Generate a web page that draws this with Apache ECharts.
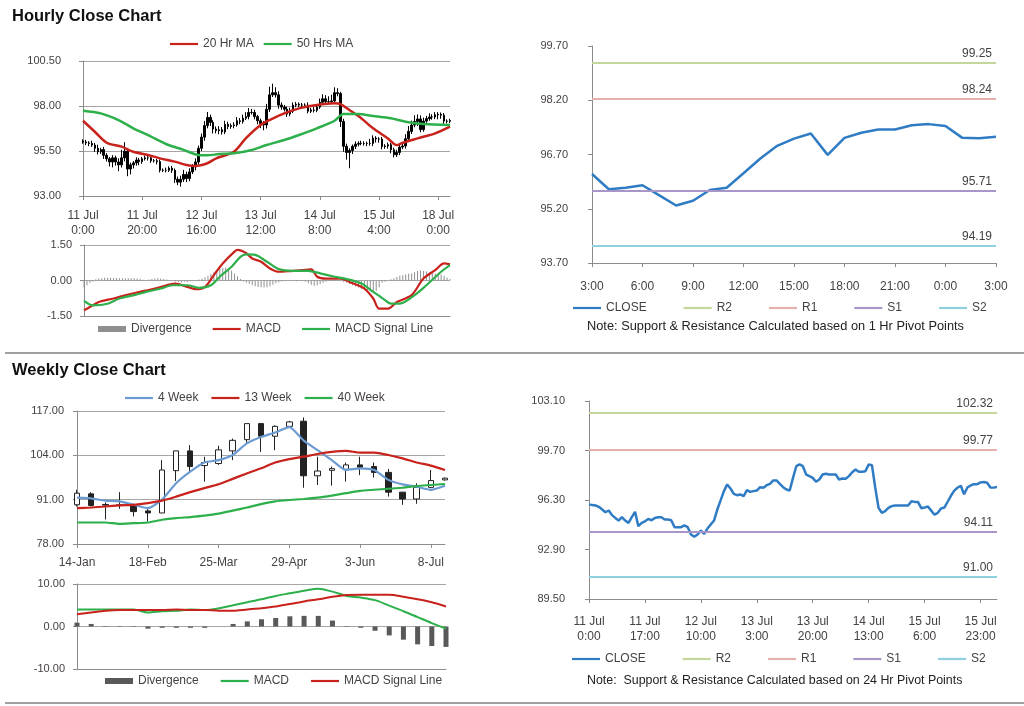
<!DOCTYPE html>
<html><head><meta charset="utf-8">
<script src="https://cdn.jsdelivr.net/npm/echarts@6/dist/echarts.min.js"></script>
<style>html,body{margin:0;padding:0;background:#fff}#c{width:1024px;height:706px}</style>
</head><body><div id="c"></div>
<script>
// ---------- Hourly data (11 Jul 0:00 .. 18 Jul 4:00) ----------
const hourlyClose = [
 96.00,95.95,95.92,95.83,95.65,95.46,95.58,95.26,95.07,94.89,
 95.12,94.89,94.73,95.12,95.49,94.50,94.73,94.84,95.00,94.91,
 95.07,95.12,95.12,94.96,94.96,94.91,94.43,94.43,94.43,94.55,
 94.43,93.93,93.77,93.93,94.20,93.97,94.34,94.62,94.89,95.65,
 96.27,96.91,97.37,97.09,96.72,96.63,96.68,96.56,96.98,96.86,
 96.91,96.95,97.18,97.14,97.32,97.41,97.64,97.64,97.41,97.18,
 97.02,96.95,97.82,98.62,98.74,98.62,98.05,97.94,97.82,97.55,
 97.71,98.05,98.10,98.05,98.05,98.05,97.71,97.78,97.76,97.94,
 98.21,98.40,98.24,98.24,98.28,98.74,98.69,97.14,95.76,95.42,
 95.53,95.76,95.88,95.92,95.92,95.92,95.92,95.92,96.22,96.17,
 96.16,95.74,95.78,95.85,95.57,95.29,95.42,95.72,95.78,96.18,
 96.59,96.94,97.14,97.28,96.69,97.16,97.30,97.39,97.39,97.51,
 97.54,97.49,97.16,97.15,97.19
];
const hourlyFirstOpen = 96.05;
const hourlyWickUp = [
 0.10,0.12,0.10,0.15,0.12,0.20,0.10,0.15,0.12,0.10,
 0.15,0.12,0.20,0.45,0.50,0.15,0.12,0.10,0.15,0.12,
 0.10,0.12,0.10,0.12,0.10,0.10,0.12,0.10,0.15,0.10,
 0.12,0.10,0.15,0.20,0.25,0.15,0.20,0.15,0.20,0.15,
 0.20,0.25,0.30,0.15,0.12,0.15,0.20,0.15,0.20,0.15,
 0.12,0.15,0.20,0.15,0.20,0.25,0.25,0.20,0.15,0.10,
 0.12,0.15,0.30,0.45,0.50,0.30,0.20,0.15,0.12,0.15,
 0.20,0.15,0.12,0.10,0.12,0.10,0.15,0.12,0.20,0.15,
 0.20,0.25,0.20,0.30,0.35,0.30,0.25,0.10,0.15,0.15,
 0.12,0.10,0.15,0.12,0.15,0.12,0.10,0.25,0.15,0.10,
 0.10,0.12,0.10,0.12,0.10,0.12,0.15,0.15,0.20,0.25,
 0.30,0.25,0.35,0.25,0.20,0.20,0.15,0.20,0.15,0.15,
 0.12,0.10,0.12,0.10,0.10
];
const hourlyWickDn = [
 0.10,0.12,0.15,0.10,0.20,0.15,0.12,0.20,0.15,0.25,
 0.30,0.20,0.35,0.15,0.20,0.40,0.30,0.20,0.15,0.20,
 0.12,0.10,0.15,0.12,0.10,0.15,0.12,0.10,0.12,0.10,
 0.15,0.20,0.17,0.25,0.15,0.20,0.15,0.12,0.20,0.15,
 0.15,0.20,0.15,0.20,0.25,0.15,0.20,0.15,0.12,0.15,
 0.12,0.15,0.10,0.15,0.12,0.10,0.15,0.12,0.15,0.20,
 0.25,0.30,0.20,0.15,0.12,0.15,0.20,0.15,0.12,0.15,
 0.12,0.10,0.12,0.10,0.15,0.10,0.12,0.10,0.12,0.10,
 0.10,0.12,0.10,0.12,0.10,0.12,0.15,0.30,0.30,0.40,
 0.88,0.20,0.15,0.12,0.10,0.12,0.15,0.12,0.15,0.20,
 0.20,0.15,0.12,0.15,0.20,0.15,0.12,0.15,0.12,0.15,
 0.12,0.15,0.12,0.25,0.15,0.12,0.10,0.12,0.15,0.12,
 0.25,0.20,0.15,0.12,0.10
];
// moving averages: [hour index, value]
const ma20Hr = [[0,97.18],[4,96.57],[8,95.96],[13,95.74],[17,95.46],[22,95.28],[26,95.09],[31,94.91],[35,94.72],[38,94.67],[42,94.82],[45,95.09],[51,95.46],[55,96.2],[60,96.94],[63,97.22],[68,97.59],[73,97.87],[79,98.06],[85,98.15],[87,98.11],[90,97.78],[94,97.32],[98,96.76],[103,96.2],[106,95.83],[108,95.96],[113,96.2],[119,96.48],[124,96.85]];
const ma50Hr = [[0,97.74],[6,97.59],[12,97.22],[17,96.76],[23,96.3],[28,95.89],[34,95.56],[39,95.28],[42,95.26],[46,95.33],[51,95.37],[57,95.56],[62,95.83],[68,96.11],[73,96.39],[79,96.76],[85,97.18],[88,97.55],[93,97.55],[98,97.44],[104,97.32],[109,97.13],[115,97.0],[124,96.94]];
// hourly MACD
const macdHr = [[0,-1.26],[2,-1.12],[5,-0.91],[10,-0.76],[15,-0.59],[19,-0.48],[24,-0.34],[28,-0.2],[31,-0.13],[35,-0.27],[38,-0.37],[41,-0.27],[44,0.23],[47,0.72],[51,1.22],[52,1.29],[55,1.15],[57,0.93],[60,0.79],[63,0.51],[66,0.37],[70,0.40],[74,0.44],[77,0.47],[79,0.16],[82,0.08],[87,0.08],[90,-0.06],[95,-0.34],[98,-0.76],[100,-1.19],[103,-1.19],[106,-0.91],[111,-0.62],[115,0.08],[119,0.44],[122,0.72],[124,0.68]];
const signalHr = [[0,-0.86],[3,-1.05],[8,-0.98],[12,-0.76],[17,-0.62],[21,-0.48],[26,-0.34],[30,-0.2],[35,-0.2],[39,-0.31],[43,-0.2],[46,0.16],[50,0.58],[53,1.0],[55,1.1],[58,1.08],[62,0.79],[66,0.48],[71,0.41],[76,0.41],[80,0.3],[85,0.16],[89,0.06],[94,-0.13],[98,-0.48],[102,-0.83],[104,-0.98],[107,-0.98],[112,-0.62],[116,-0.2],[121,0.37],[124,0.65]];
const divergenceHr = [
 -0.30,-0.20,-0.10,-0.05,0.05,0.08,0.10,0.12,0.12,0.12,
 0.11,0.11,0.10,0.10,0.10,0.09,0.10,0.09,0.08,0.06,
 0.03,0.02,0.04,0.06,0.08,0.10,0.08,0.06,0.04,0.02,
 0.00,-0.04,-0.06,-0.08,-0.05,-0.06,-0.04,-0.02,0.02,0.04,
 0.08,0.14,0.20,0.28,0.35,0.42,0.48,0.53,0.55,0.50,
 0.42,0.30,0.18,0.06,-0.04,-0.10,-0.15,-0.20,-0.24,-0.27,
 -0.29,-0.30,-0.28,-0.24,-0.18,-0.12,-0.07,-0.04,-0.02,-0.01,
 0.00,-0.02,-0.03,-0.02,-0.01,-0.05,-0.12,-0.18,-0.22,-0.20,
 -0.15,-0.10,-0.05,-0.02,0.02,0.03,0.02,-0.02,-0.06,-0.10,
 -0.15,-0.20,-0.25,-0.30,-0.35,-0.38,-0.42,-0.45,-0.48,-0.44,
 -0.30,-0.10,-0.05,0.00,0.05,0.10,0.15,0.20,0.22,0.25,
 0.28,0.30,0.35,0.40,0.42,0.40,0.38,0.35,0.32,0.30,
 0.28,0.25,0.20,0.12,0.06
];
const hourlyTickLabels = ['11 Jul\n0:00','11 Jul\n20:00','12 Jul\n16:00','13 Jul\n12:00','14 Jul\n8:00','15 Jul\n4:00','18 Jul\n0:00'];
const srHourTickLabels = ['3:00','6:00','9:00','12:00','15:00','18:00','21:00','0:00','3:00'];
const srDayTickLabels = ['11 Jul\n0:00','11 Jul\n17:00','12 Jul\n10:00','13 Jul\n3:00','13 Jul\n20:00','14 Jul\n13:00','15 Jul\n6:00','15 Jul\n23:00'];
const srNames = ['R2','R1','S1','S2'];
const srHourLevels = [99.25, 98.24, 95.71, 94.19];
const srDayLevels = [102.32, 99.77, 94.11, 91.00];

// ---------- Weekly data ----------
const weeks = ['14-Jan','21-Jan','28-Jan','4-Feb','11-Feb','18-Feb','25-Feb','4-Mar','11-Mar','18-Mar','25-Mar','1-Apr','8-Apr','15-Apr','22-Apr','29-Apr','6-May','13-May','20-May','27-May','3-Jun','10-Jun','17-Jun','24-Jun','1-Jul','8-Jul','15-Jul'];
const wOpen  = [89.5,92.7,89.6,89.3,89.3,87.7,87.1,99.5,105.3,101.0,101.6,105.3,108.6,113.3,109.6,112.5,114.0,98.0,99.6,99.9,101.2,100.7,99.0,93.2,91.2,94.6,96.8];
const wClose = [92.9,89.3,89.4,89.5,87.5,87.1,99.7,105.3,100.7,101.9,105.6,108.4,113.3,109.6,112.5,113.8,98.0,99.4,100.1,101.2,100.5,99.0,93.2,91.2,94.6,96.6,97.3];
const wLow   = [89.0,89.0,85.2,88.3,86.1,84.6,87.1,96.5,99.4,96.3,101.2,102.6,107.5,105.0,105.5,112.5,94.5,95.3,95.1,96.3,98.2,97.5,91.9,89.5,89.8,94.3,96.6];
const wHigh  = [93.9,93.2,90.2,93.2,89.8,88.5,102.6,105.3,107.0,103.6,106.8,108.9,113.3,113.5,112.8,114.1,115.1,103.6,100.7,101.9,103.6,101.9,100.0,93.2,95.8,99.7,97.5];
const ma4Week  = [91.6,91.4,90.7,90.5,89.5,88.5,91.0,95.8,99.2,101.9,102.6,104.1,107.5,109.4,110.7,112.3,108.4,105.5,102.6,99.7,100.2,99.7,96.8,95.5,94.8,93.9,95.1];
const ma13Week = [88.5,88.7,89.0,89.3,89.5,90.0,90.7,91.9,93.2,94.4,95.5,97.1,98.7,100.2,101.9,102.9,103.6,104.4,105.0,105.3,104.8,104.8,104.1,103.1,101.9,101.0,99.7];
const ma40Week = [84.3,84.3,84.3,83.9,84.1,84.3,85.1,85.6,85.9,86.3,86.9,87.8,88.7,89.7,90.5,90.9,91.2,91.6,92.2,92.9,93.6,93.9,94.2,94.5,95.0,95.3,95.6];
const macdW    = [4.0,4.0,4.0,4.0,4.0,3.3,3.6,3.7,4.0,3.9,4.3,5.0,5.7,6.4,7.2,7.8,8.4,8.9,8.2,7.2,6.8,6.2,4.9,3.6,2.2,0.8,-0.5];
const signalW  = [2.9,3.3,3.7,3.9,3.9,3.9,3.9,4.0,3.9,3.9,3.7,3.7,4.0,4.3,4.7,5.3,5.9,6.4,7.0,7.4,7.5,7.5,7.5,7.0,6.4,5.7,4.7];
const divW     = [0.9,0.6,0.1,-0.1,-0.1,-0.5,-0.3,-0.3,-0.3,-0.3,0.0,0.6,1.2,1.7,2.0,2.4,2.5,2.5,1.4,-0.1,-0.3,-1.0,-2.1,-3.1,-4.2,-4.6,-4.8];

// ---------- build ----------
const F = "'Liberation Sans', Arial, sans-serif";
const FN = "'Liberation Sans Narrow','Liberation Sans', Arial, sans-serif";
const LBL = '#454045';
const AX = '#8c8c8c';
const GRIDC = '#a6a6a6';
const RED = '#c8221c', GREEN = '#2db04b', BLUE = '#2f7cc4', LBLUE = '#6c9bd2';
const srColors = ['#c3d69b','#e6b0ae','#a996c8','#8fcfe0'];
const LINE_ICON = 'path://M0,0H28V2.2H0Z';

const hCats = hourlyClose.map((_, i) => String(i));
const hourlyCandles = hourlyClose.map((c, i) => {
  const o = i === 0 ? hourlyFirstOpen : hourlyClose[i - 1];
  return [o, c, Math.min(o, c) - hourlyWickDn[i], Math.max(o, c) + hourlyWickUp[i]];
});
const weeklyCandles = wOpen.map((o, i) => [o, wClose[i], wLow[i], wHigh[i]]);
const srCats = hCats.slice(hCats.length - 25);
const srData = hourlyClose.slice(hourlyClose.length - 25);

function catX(grid, data, every, labels, margin, showLabels) {
  return {
    type: 'category', gridIndex: grid, data: data, boundaryGap: false,
    axisLine: { show: true, onZero: false, lineStyle: { color: AX, width: 1 } },
    axisTick: { show: showLabels, interval: every - 1, length: 4, lineStyle: { color: AX } },
    axisLabel: {
      show: showLabels, interval: every - 1, margin: margin, color: LBL, fontSize: 12, fontFamily: F, lineHeight: 15,
      formatter: labels ? (v, idx) => (idx % every === 0 ? labels[idx / every] : '') : undefined
    },
    splitLine: { show: false }
  };
}
function valY(grid, min, max, interval, split, margin) {
  return {
    type: 'value', gridIndex: grid, min: min, max: max, interval: interval,
    axisLine: { show: true, lineStyle: { color: AX } },
    axisTick: { show: true, length: 4, lineStyle: { color: AX } },
    axisLabel: { margin: margin, color: LBL, fontSize: 11, fontFamily: FN, formatter: v => v.toFixed(2) },
    splitLine: { show: split, lineStyle: { color: GRIDC, width: 1 } }
  };
}
function line(name, xi, yi, data, color, width, smooth) {
  return { name: name, type: 'line', xAxisIndex: xi, yAxisIndex: yi, data: data, symbol: 'none',
    smooth: smooth || false, itemStyle: { color: color }, lineStyle: { color: color, width: width }, z: 3 };
}
function srSeries(suffix, xi, yi, levels) {
  return srNames.map((n, k) => ({
    name: n + suffix, type: 'line', xAxisIndex: xi, yAxisIndex: yi, data: [], symbol: 'none',
    itemStyle: { color: srColors[k] }, lineStyle: { color: srColors[k], width: 1.5 },
    markLine: {
      silent: true, symbol: ['none', 'none'], animation: false,
      lineStyle: { color: srColors[k], width: 1.8, type: 'solid' },
      label: { show: true, position: 'insideEndTop', formatter: levels[k].toFixed(2), color: LBL, fontSize: 12, fontFamily: F, distance: [4, 3] },
      data: [{ yAxis: levels[k] }]
    }
  }));
}
function legend(left, top, names, gap, h) {
  return {
    left: left, top: top, padding: 0, itemGap: gap, itemWidth: 28, itemHeight: h || 8,
    textStyle: { color: LBL, fontSize: 12, fontFamily: F },
    formatter: n => n.split('|')[0],
    data: names.map(n => (typeof n === 'string' ? { name: n, icon: LINE_ICON } : n))
  };
}

const option = {
  animation: false,
  backgroundColor: '#fff',
  textStyle: { fontFamily: F },
  grid: [
    { left: 83, top: 61, width: 367, height: 135 },
    { left: 84, top: 245, width: 366, height: 71 },
    { left: 592, top: 46, width: 404, height: 217 },
    { left: 77, top: 411, width: 368, height: 133 },
    { left: 77, top: 584, width: 369, height: 85 },
    { left: 589, top: 401, width: 408, height: 198 }
  ],
  xAxis: [
    catX(0, hCats, 20, hourlyTickLabels, 12, true),
    catX(1, hCats, 20, null, 8, false),
    catX(2, srCats, 3, srHourTickLabels, 16, true),
    catX(3, weeks, 5, null, 11, true),
    catX(4, weeks, 5, null, 8, false),
    catX(5, hCats, 17, srDayTickLabels, 15, true)
  ],
  yAxis: [
    valY(0, 93, 100.5, 2.5, true, 22),
    valY(1, -1.5, 1.5, 1.5, true, 12),
    valY(2, 93.7, 99.7, 1.5, false, 24),
    valY(3, 78, 117, 13, true, 13),
    valY(4, -10, 10, 10, true, 12),
    valY(5, 89.5, 103.1, 3.4, false, 24)
  ],
  legend: [
    legend(170, 38, ['20 Hr MA|h', '50 Hrs MA|h'], 10),
    legend(98, 323, [{ name: 'Divergence|h', icon: 'rect' }, 'MACD|h', 'MACD Signal Line|h'], 21, 6),
    legend(573, 302, ['CLOSE|h', 'R2|h', 'R1|h', 'S1|h', 'S2|h'], 37),
    legend(125, 392, ['4 Week|w', '13 Week|w', '40 Week|w'], 13),
    legend(105, 675, [{ name: 'Divergence|w', icon: 'rect' }, 'MACD|w', 'MACD Signal Line|w'], 22, 6),
    legend(572, 653, ['CLOSE|d', 'R2|d', 'R1|d', 'S1|d', 'S2|d'], 37)
  ],
  series: [
    { name: 'Hourly', type: 'candlestick', xAxisIndex: 0, yAxisIndex: 0, data: hourlyCandles, barWidth: 2, clip: false,
      itemStyle: { color: '#000', color0: '#000', borderColor: '#000', borderColor0: '#000', borderWidth: 1 } },
    line('20 Hr MA|h', 0, 0, ma20Hr, RED, 2.5, 0.3),
    line('50 Hrs MA|h', 0, 0, ma50Hr, GREEN, 2.5, 0.3),
    { name: 'Divergence|h', type: 'bar', xAxisIndex: 1, yAxisIndex: 1, data: divergenceHr, barWidth: 1, clip: false,
      itemStyle: { color: '#8f8f8f' } },
    line('MACD|h', 1, 1, macdHr, RED, 2.2, 0.3),
    line('MACD Signal Line|h', 1, 1, signalHr, GREEN, 2.2, 0.3),
    line('CLOSE|h', 2, 2, srData, BLUE, 2.5),
    ...srSeries('|h', 2, 2, srHourLevels),
    { name: 'Weekly', type: 'candlestick', xAxisIndex: 3, yAxisIndex: 3, data: weeklyCandles, barWidth: 6, clip: false,
      itemStyle: { color: '#fff', color0: '#222', borderColor: '#222', borderColor0: '#222', borderWidth: 1 } },
    line('4 Week|w', 3, 3, ma4Week, LBLUE, 2.2, 0.2),
    line('13 Week|w', 3, 3, ma13Week, RED, 2.2, 0.2),
    line('40 Week|w', 3, 3, ma40Week, GREEN, 2.2, 0.2),
    { name: 'Divergence|w', type: 'bar', xAxisIndex: 4, yAxisIndex: 4, data: divW, barWidth: 5, clip: false,
      itemStyle: { color: '#595959' } },
    line('MACD|w', 4, 4, macdW, GREEN, 2, 0.3),
    line('MACD Signal Line|w', 4, 4, signalW, RED, 2, 0.3),
    line('CLOSE|d', 5, 5, hourlyClose, BLUE, 2.5),
    ...srSeries('|d', 5, 5, srDayLevels)
  ],
  graphic: [
    { type: 'text', left: 12, top: 8, style: { text: 'Hourly Close Chart', font: 'bold 16.5px ' + F, fill: '#111' } },
    { type: 'text', left: 12, top: 362, style: { text: 'Weekly Close Chart', font: 'bold 16.5px ' + F, fill: '#111' } },
    { type: 'rect', shape: { x: 5, y: 352, width: 1019, height: 2 }, style: { fill: '#a0a0a0' } },
    { type: 'rect', shape: { x: 5, y: 702, width: 1019, height: 2 }, style: { fill: '#a0a0a0' } },
    { type: 'text', left: 587, top: 320, style: { text: 'Note: Support & Resistance Calculated based on 1 Hr Pivot Points', font: '12.8px ' + F, fill: '#222' } },
    { type: 'text', left: 587, top: 675, style: { text: 'Note:  Support & Resistance Calculated based on 24 Hr Pivot Points', font: '12.4px ' + F, fill: '#222' } }
  ]
};
echarts.init(document.getElementById('c'), null, { renderer: 'canvas' }).setOption(option);
</script></body></html>
